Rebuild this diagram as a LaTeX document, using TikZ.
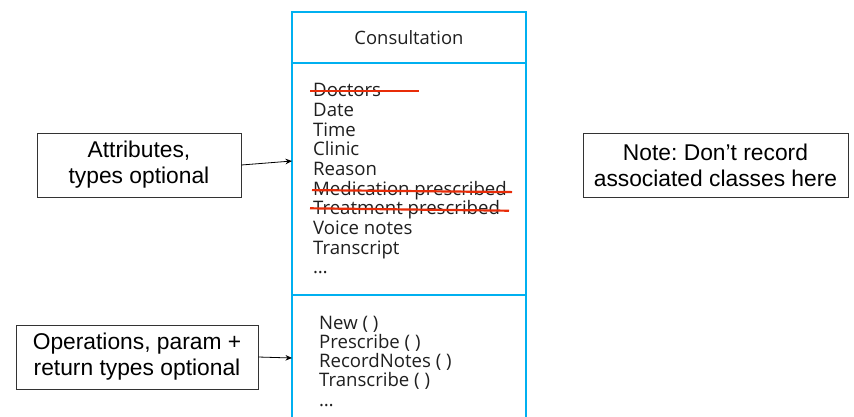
\documentclass[tikz,border=0pt]{standalone}
\usepackage{fontspec}
\setmainfont{Liberation Sans}
\newfontfamily\umlfont{Open Sans}
\usetikzlibrary{arrows.meta}
\definecolor{umlBlue}{RGB}{0,176,240}
\definecolor{strikeRed}{RGB}{232,44,8}
\frenchspacing

\begin{document}
\begin{tikzpicture}[
  x=1pt, y=-1pt,
  cmp/.style={draw=umlBlue, line width=1.8pt, minimum width=234pt, inner sep=0pt,
              font=\umlfont\fontsize{18.4}{19}\selectfont, text=black!88},
  item/.style={anchor=base west, inner sep=0pt,
               font=\umlfont\fontsize{18.6}{19}\selectfont, text=black!88},
  callout/.style={draw=black!80, line width=0.8pt, align=center, inner sep=0pt,
                  minimum height=64pt, font=\fontsize{22.8}{26}\selectfont},
  pointer/.style={-{Stealth[length=6.5pt,width=5.5pt]}, line width=0.8pt},
  strike/.style={draw=strikeRed, line width=2.2pt},
]
\useasboundingbox (0,0) rectangle (854,416);
\fill[white] (0,0) rectangle (854,416);
% Shared baselines for the two compartments.
\def\attrTop{96.6}
\def\attrGap{19.7}
\def\opsTop{329.3}
\def\opsGap{19.2}

% ---------------- class box ----------------
\node[cmp, minimum height=51pt] (head) at (409,37.5) {Consultation};
\node[cmp, minimum height=232pt] (attrs) at (409,179) {};
\node[cmp, minimum height=150pt] (ops) at (409,370) {};

\foreach \t [count=\i] in {Doctors, Date, Time, Clinic, Reason,
    Medication prescribed, Treatment prescribed, Voice notes, Transcript, \ldots}
  \node[item] (a\i) at (313,{\attrTop+\attrGap*(\i-1)}) {\t};

\foreach \t [count=\i] in {{New ( )}, {Prescribe ( )}, {RecordNotes ( )},
    {Transcribe ( )}, \ldots}
  \node[item] (o\i) at (319,{\opsTop+\opsGap*(\i-1)}) {\t};

% struck-out attributes
\draw[strike] ([shift={(-3,-5.5)}]a1.base west) -- ++(109,0);
\draw[strike] ([shift={(-1,-5)}]a6.base west) -- ++(200,2);
\draw[strike] ([shift={(-3,-6.5)}]a7.base west) -- ++(199,2.4);

% ---------------- callouts ----------------
\node[callout, minimum width=204pt] (attrNote) at (139,165)
  {Attributes,\\types optional};
\node[callout, minimum width=242pt] (opsNote) at (137,357)
  {Operations, param +\\return types optional};
\node[callout, minimum width=265pt] (assocNote) at (715.5,165)
  {Note: Don’t record\\associated classes here};

\coordinate (attrTip) at (292,161);
\coordinate (opsTip) at (292,358);
\draw[pointer] (attrNote.east) -- (attrTip);
\draw[pointer] (opsNote.east) -- (opsTip);
\end{tikzpicture}
\end{document}
